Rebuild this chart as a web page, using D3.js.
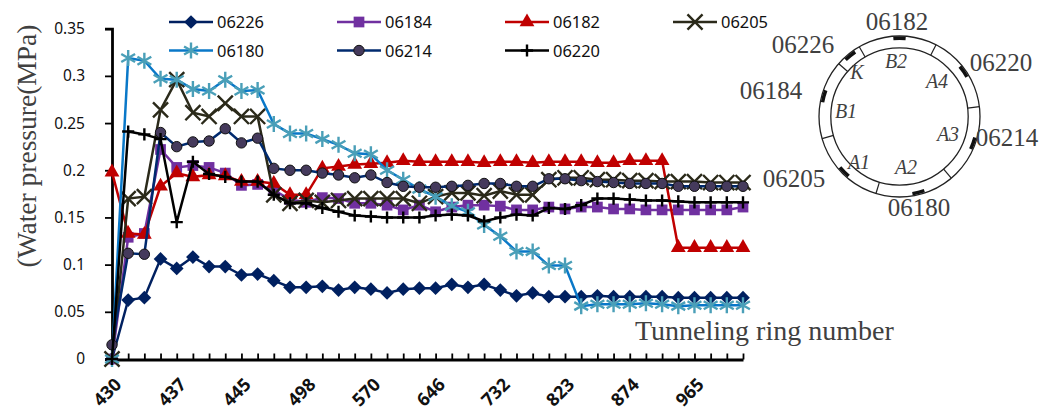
<!doctype html>
<html>
  <head>
    <title>Water pressure by tunneling ring</title>
    <meta charset='UTF-8'>
    <script src="https://d3js.org/d3.v7.min.js"></script>
    <style>
      body { margin: 0; background: #fff; }
      svg { display: block; }
      .label { font-family: "Liberation Serif", serif; fill: #404040; }
      .tick text { font-family: "Noto Sans", sans-serif; fill: #111; }
    </style>
  </head>
  <body>
    <svg id='render' width='1040' height='412'></svg>
    <script>
      const yTicks = [0, 0.05, 0.1, 0.15, 0.2, 0.25, 0.3, 0.35];
      const tickLabels = ["430", "437", "445", "498", "570", "646", "732", "823", "874", "965"];
      const pointCount = 40;

      const s06226 = [0, .0625, .065, .106, .096, .108, .098, .098, .089, .09, .083, .076, .076, .077, .073, .076, .074, .07, .074, .075, .075, .079, .076, .079, .073, .067, .07, .066, .066, .066, .067, .066, .066, .066, .066, .065, .065, .065, .065, .065];
      const s06184 = [0, .129, .133, .222, .203, .205, .203, .197, .184, .185, .179, .169, .166, .171, .17, .165, .165, .163, .158, .163, .156, .161, .163, .163, .162, .158, .158, .161, .159, .161, .161, .159, .159, .158, .158, .158, .158, .158, .158, .161];
      const s06182 = [.198, .133, .132, .183, .197, .193, .195, .194, .188, .188, .186, .174, .174, .202, .204, .206, .207, .208, .21, .209, .209, .209, .209, .208, .209, .209, .208, .209, .209, .209, .208, .208, .21, .21, .21, .118, .118, .118, .118, .118];
      const s06205 = [0, .17, .172, .264, .296, .261, .257, .271, .257, .257, .174, .165, .168, .166, .168, .17, .17, .17, .17, .165, .172, .176, .176, .173, .178, .174, .174, .19, .192, .192, .19, .19, .189, .189, .188, .188, .188, .187, .187, .187];
      const s06180 = [0, .319, .316, .297, .296, .286, .284, .296, .284, .285, .249, .239, .239, .233, .227, .218, .217, .2, .19, .18, .172, .162, .156, .142, .13, .114, .114, .099, .099, .056, .058, .058, .058, .059, .058, .056, .057, .057, .057, .057];
      const s06214 = [.015, .112, .111, .24, .225, .23, .231, .244, .229, .234, .202, .2, .2, .197, .195, .192, .195, .187, .183, .182, .182, .183, .184, .186, .186, .183, .183, .191, .191, .189, .188, .187, .186, .186, .186, .183, .183, .183, .183, .183];
      const s06220 = [0, .241, .238, .233, .145, .209, .196, .193, .188, .188, .174, .165, .165, .16, .156, .152, .151, .15, .15, .15, .152, .153, .152, .146, .15, .153, .152, .16, .159, .163, .17, .17, .169, .168, .168, .167, .166, .166, .166, .166];

      const seriesNames = ["06226", "06184", "06182", "06205", "06180", "06214", "06220"];
      const seriesValues = [s06226, s06184, s06182, s06205, s06180, s06214, s06220];
      const lineColors = ["#002060", "#7030a0", "#c00000", "#2b2a1a", "#0a78c8", "#002a6e", "#000000"];
      const markColors = ["#002060", "#7030a0", "#c00000", "#2b2a1a", "#4a9fb8", "#453a5c", "#000000"];
      const markTypes = [d3.symbolDiamond2, d3.symbolSquare, d3.symbolTriangle, d3.symbolX, d3.symbolAsterisk, d3.symbolCircle, d3.symbolPlus];
      const markSizes = [120, 115, 95, 150, 180, 85, 50];

      // ring diagram: angles in degrees clockwise from the top
      const ringDividers = [-30, -49, 254, 197, 140, 83, 27];
      const ringMarks = [0, 55, 110, 166, 225, 285, 321];
      const ringLabels = ["06182", "06226", "06220", "06184", "06214", "06205", "06180"];
      const ringLabelX = [897, 803, 1001, 771, 1007, 794, 919];
      const ringLabelY = [21, 44, 62, 90, 137, 178, 207];
      const zoneLabels = ["K", "B2", "A4", "A3", "A2", "A1", "B1"];
      const zoneX = [857, 896, 937, 948, 906, 859, 846];
      const zoneY = [72, 61, 81, 134, 167, 162, 111];

      const svg = d3.select("#render");
      const x = d3.scaleLinear().domain([0, pointCount - 1]).range([112, 743]);
      const y = d3.scaleLinear().domain([0, 0.35]).range([359, 28.7]);

      const yAxis = svg.append("g").attr("transform", "translate(112,0)")
	  .call(d3.axisLeft(y).tickValues(yTicks).tickSize(7).tickPadding(20)
		.tickFormat(d => d === 0 ? "0" : String(d)));
      yAxis.selectAll("text").style("font-size", "15.5px");
      const xAxis = svg.append("g").attr("transform", "translate(0,359.5)")
	  .call(d3.axisBottom(x).tickValues(d3.range(pointCount)).tickSize(-6).tickSizeOuter(0)
		.tickFormat(i => i % 4 === 0 ? tickLabels[i / 4] : ""));
      xAxis.selectAll("text")
	  .style("font-size", "18px").style("font-weight", "bold")
	  .attr("text-anchor", "end").attr("dy", 0)
	  .attr("transform", "translate(8,24) rotate(-45)");
      svg.selectAll(".domain").attr("stroke-width", 2.8).attr("stroke", "#000");
      svg.selectAll(".tick line").attr("stroke-width", 1.8).attr("stroke", "#000");

      const line = d3.line().x((d, i) => x(i)).y(d => y(d));
      const isStroked = t => t === d3.symbolX || t === d3.symbolAsterisk || t === d3.symbolPlus;

      function drawMark(sel, k) {
	  const t = markTypes[k];
	  sel.attr("d", d3.symbol().type(t).size(markSizes[k])())
	      .attr("fill", isStroked(t) ? "none" : markColors[k])
	      .attr("stroke", isStroked(t) ? markColors[k] : (k === 5 ? "#111" : "none"))
	      .attr("stroke-width", isStroked(t) ? 2.4 : 1);
      }

      seriesNames.forEach((name, k) => {
	  const g = svg.append("g");
	  g.append("path").datum(seriesValues[k])
	      .attr("d", line).attr("fill", "none")
	      .attr("stroke", lineColors[k]).attr("stroke-width", 2.5);
	  g.selectAll("path.mark").data(seriesValues[k]).enter().append("path")
	      .attr("class", "mark")
	      .attr("transform", (d, i) => `translate(${x(i)},${y(d)})`)
	      .call(drawMark, k);
      });

      // legend, two rows
      const legendRow = [0, 0, 0, 0, 1, 1, 1];
      const legendCol = [0, 1, 2, 3, 0, 1, 2];
      seriesNames.forEach((name, k) => {
	  const g = svg.append("g").attr("transform",
	      `translate(${169 + 168 * legendCol[k]},${22 + 28.5 * legendRow[k]})`);
	  g.append("line").attr("x2", 44).attr("stroke", lineColors[k]).attr("stroke-width", 2.5);
	  g.append("path").attr("transform", "translate(22,0)").call(drawMark, k);
	  g.append("text").attr("x", 48).attr("y", 6)
	      .attr("font-family", "Noto Sans, sans-serif").attr("font-size", 16.5)
	      .attr("textLength", 47).attr("lengthAdjust", "spacingAndGlyphs")
	      .attr("fill", "#111").text(name);
      });

      // axis titles
      svg.append("text").attr("class", "label")
	  .attr("transform", "translate(36,146) rotate(-90)").attr("text-anchor", "middle")
	  .style("font-size", "27.5px").text("(Water pressure(MPa)");
      svg.append("text").attr("class", "label")
	  .attr("x", 635).attr("y", 340)
	  .style("font-size", "28px").text("Tunneling ring number");

      // ring
      const cx = 899.5, cy = 116.5, rOut = 80.5, rIn = 68.7;
      const ring = svg.append("g").attr("transform", `translate(${cx},${cy})`);
      ring.selectAll("circle").data([rOut, rIn]).enter().append("circle")
	  .attr("r", d => d).attr("fill", "none").attr("stroke", "#222").attr("stroke-width", 1.3);
      const rad = d => d * Math.PI / 180;
      ring.selectAll("line").data(ringDividers).enter().append("line")
	  .attr("x1", d => rIn * Math.sin(rad(d))).attr("y1", d => -rIn * Math.cos(rad(d)))
	  .attr("x2", d => rOut * Math.sin(rad(d))).attr("y2", d => -rOut * Math.cos(rad(d)))
	  .attr("stroke", "#222").attr("stroke-width", 1.2);
      const markArc = d3.arc().innerRadius(76.5).outerRadius(80)
	  .startAngle(d => rad(d - 4.5)).endAngle(d => rad(d + 4.5));
      ring.selectAll("path").data(ringMarks).enter().append("path")
	  .attr("d", markArc).attr("fill", "#111");

      svg.selectAll("text.ringlabel").data(ringLabels).enter().append("text")
	  .attr("class", "label ringlabel")
	  .attr("x", (d, i) => ringLabelX[i]).attr("y", (d, i) => ringLabelY[i] + 9)
	  .attr("text-anchor", "middle").style("font-size", "25px").text(d => d);
      svg.selectAll("text.zone").data(zoneLabels).enter().append("text")
	  .attr("class", "label zone")
	  .attr("x", (d, i) => zoneX[i]).attr("y", (d, i) => zoneY[i] + 7)
	  .attr("text-anchor", "middle").style("font-size", "20px").style("font-style", "italic")
	  .text(d => d);
    </script>
  </body>
</html>
